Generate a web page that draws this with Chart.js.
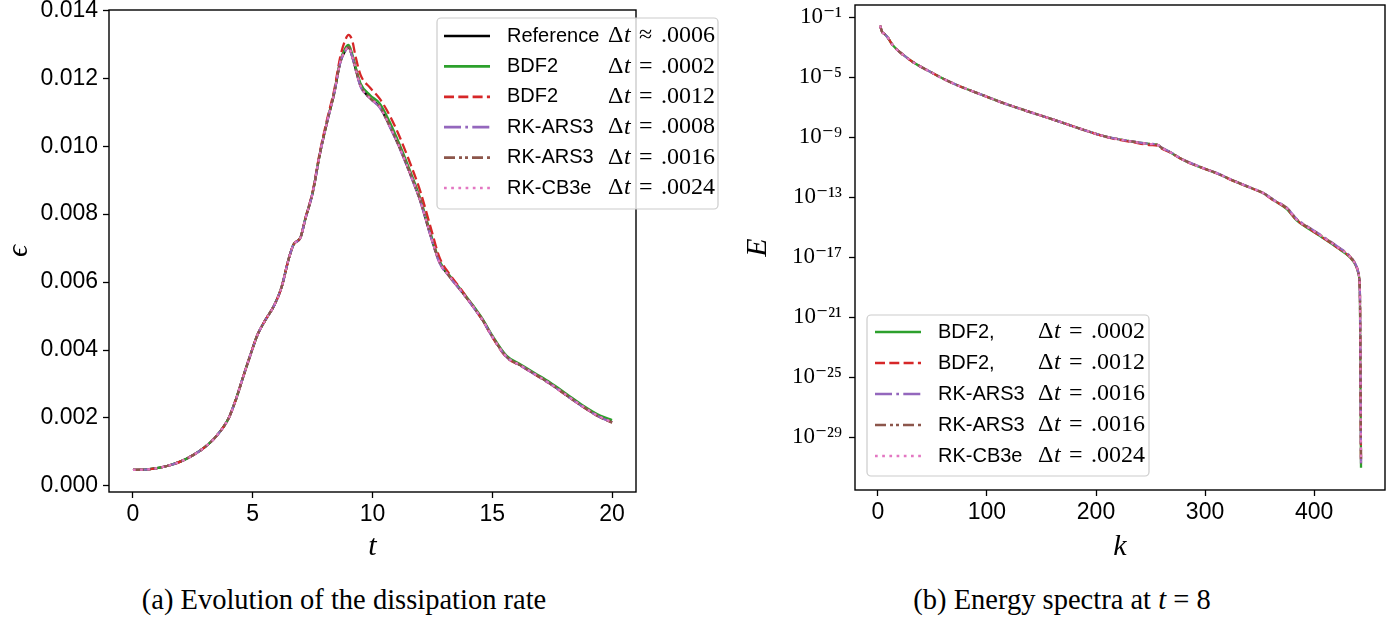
<!DOCTYPE html>
<html>
<head>
<meta charset="utf-8">
<script src="https://cdn.jsdelivr.net/npm/chart.js@4.4.1/dist/chart.umd.min.js"></script>
<style>
  html, body { margin: 0; padding: 0; background: #fff; }
  body { width: 1396px; height: 619px; position: relative; overflow: hidden; }
  #leftChart { position: absolute; left: 0; top: 0; }
  #rightChart { position: absolute; left: 740px; top: 0; }
  .caption {
    position: absolute; top: 584px; white-space: nowrap; color: #000;
    font-family: 'Liberation Serif', serif; font-size: 28.5px;
    transform: translateX(-50%);
  }
</style>
</head>
<body>
<canvas id="leftChart" width="740" height="570"></canvas>
<canvas id="rightChart" width="656" height="570"></canvas>
<div class="caption" style="left:344px">(a) Evolution of the dissipation rate</div>
<div class="caption" style="left:1062px">(b) Energy spectra at <i>t</i> = 8</div>
<script>
/* ===========================
   DATA - (a) dissipation rate
=========================== */
const tValues = [0, 0.5, 1, 1.5, 2, 2.5, 3, 3.5, 4, 4.3, 4.6, 4.9, 5.2, 5.5, 5.9, 6.2, 6.5, 6.7, 7.0, 7.2,
    7.5, 7.8, 8.1, 8.4, 8.65, 8.85, 9.0, 9.15, 9.3, 9.5, 9.9, 10.3, 10.7, 11.1, 11.5, 12.0, 12.4, 12.8,
    13.2, 13.7, 14.2, 14.6, 15.0, 15.6, 16.2, 16.8, 17.4, 18.1, 18.8, 19.5, 20.0];

const epsReference = [0.00047, 0.00048, 0.00052, 0.00060, 0.00072, 0.00090, 0.00114, 0.00148, 0.00200, 0.00255,
    0.00321, 0.00385, 0.00445, 0.00485, 0.00532, 0.00584, 0.00668, 0.00710, 0.00732, 0.00787,
    0.00862, 0.00976, 0.01070, 0.01156, 0.01246, 0.01280, 0.01291, 0.01265, 0.01226, 0.01178,
    0.01141, 0.01116, 0.01062, 0.01001, 0.00932, 0.00838, 0.00743, 0.00658, 0.00618, 0.00574,
    0.00528, 0.00488, 0.00440, 0.00380, 0.00354, 0.00328, 0.00302, 0.00267, 0.00233, 0.00203, 0.00188];

const epsBdf2Fine = [0.00047, 0.00048, 0.00052, 0.00060, 0.00072, 0.00090, 0.00114, 0.00148, 0.00200, 0.00255,
    0.00321, 0.00385, 0.00445, 0.00485, 0.00532, 0.00584, 0.00668, 0.00710, 0.00733, 0.00788,
    0.00863, 0.00978, 0.01072, 0.01158, 0.01250, 0.01287, 0.01298, 0.01272, 0.01232, 0.01185,
    0.01150, 0.01126, 0.01074, 0.01010, 0.00940, 0.00845, 0.00750, 0.00662, 0.00621, 0.00577,
    0.00531, 0.00491, 0.00443, 0.00383, 0.00357, 0.00331, 0.00305, 0.00271, 0.00236, 0.00207, 0.00194];

const epsBdf2Coarse = [0.00047, 0.00048, 0.00052, 0.00060, 0.00072, 0.00090, 0.00114, 0.00148, 0.00200, 0.00255,
    0.00321, 0.00385, 0.00445, 0.00485, 0.00532, 0.00584, 0.00668, 0.00710, 0.00733, 0.00789,
    0.00866, 0.00982, 0.01078, 0.01165, 0.01262, 0.01310, 0.01328, 0.01312, 0.01262, 0.01210,
    0.01172, 0.01140, 0.01093, 0.01033, 0.00963, 0.00866, 0.00768, 0.00672, 0.00625, 0.00578,
    0.00528, 0.00487, 0.00438, 0.00378, 0.00353, 0.00327, 0.00301, 0.00266, 0.00232, 0.00202, 0.00187];

const epsArs3Fine = [0.00047, 0.00048, 0.00052, 0.00060, 0.00072, 0.00090, 0.00114, 0.00148, 0.00200, 0.00255,
    0.00321, 0.00385, 0.00445, 0.00485, 0.00532, 0.00584, 0.00668, 0.00710, 0.00732, 0.00787,
    0.00862, 0.00976, 0.01070, 0.01155, 0.01245, 0.01279, 0.01290, 0.01264, 0.01224, 0.01176,
    0.01140, 0.01114, 0.01060, 0.00999, 0.00930, 0.00836, 0.00741, 0.00656, 0.00617, 0.00573,
    0.00527, 0.00487, 0.00439, 0.00379, 0.00353, 0.00327, 0.00301, 0.00266, 0.00232, 0.00202, 0.00187];

const epsArs3Coarse = [0.00047, 0.00048, 0.00052, 0.00060, 0.00072, 0.00090, 0.00114, 0.00148, 0.00200, 0.00255,
    0.00321, 0.00385, 0.00445, 0.00485, 0.00532, 0.00584, 0.00668, 0.00710, 0.00732, 0.00787,
    0.00862, 0.00976, 0.01070, 0.01156, 0.01246, 0.01281, 0.01292, 0.01266, 0.01227, 0.01179,
    0.01142, 0.01117, 0.01063, 0.01002, 0.00933, 0.00839, 0.00744, 0.00659, 0.00618, 0.00574,
    0.00528, 0.00488, 0.00440, 0.00380, 0.00354, 0.00328, 0.00302, 0.00267, 0.00232, 0.00202, 0.00186];

const epsCb3e = [0.00047, 0.00048, 0.00052, 0.00060, 0.00072, 0.00090, 0.00114, 0.00148, 0.00200, 0.00255,
    0.00321, 0.00385, 0.00445, 0.00485, 0.00532, 0.00584, 0.00668, 0.00710, 0.00732, 0.00787,
    0.00862, 0.00976, 0.01070, 0.01156, 0.01246, 0.01280, 0.01291, 0.01265, 0.01226, 0.01178,
    0.01141, 0.01116, 0.01062, 0.01001, 0.00932, 0.00838, 0.00743, 0.00658, 0.00618, 0.00574,
    0.00528, 0.00488, 0.00440, 0.00380, 0.00354, 0.00328, 0.00302, 0.00267, 0.00233, 0.00203, 0.00188];

const namesA = ['Reference', 'BDF2', 'BDF2', 'RK-ARS3', 'RK-ARS3', 'RK-CB3e'];
const relA = ['≈', '=', '=', '=', '=', '='];
const dtA = ['.0006', '.0002', '.0012', '.0008', '.0016', '.0024'];
const tTicks = [0, 5, 10, 15, 20];
const epsTicks = [0, 0.002, 0.004, 0.006, 0.008, 0.010, 0.012, 0.014];

/* ===========================
   DATA - (b) energy spectra
=========================== */
const kValues = [2, 4, 6, 9, 12, 16, 23, 32, 45, 60, 75, 90, 112, 136, 161, 185, 210, 234, 250, 256,
    260, 268, 280, 295, 311, 326, 341, 354, 363, 375, 384, 396, 408, 421, 433, 438, 441, 442, 443];

const energyBdf2Fine = [2.8e-2, 1.0e-2, 7.9e-3, 4.5e-3, 2.0e-3, 8.9e-4, 3.2e-4, 1.05e-4, 3.0e-5, 7.9e-6,
    2.5e-6, 9.5e-7, 2.3e-7, 5.8e-8, 1.5e-8, 3.8e-9, 1.05e-9, 5.0e-10, 3.5e-10, 3.2e-10,
    2.0e-10, 1.0e-10, 3.0e-11, 1.05e-11, 3.8e-12, 1.23e-12, 4.4e-13, 1.74e-13, 6.3e-14, 1.6e-14,
    2.8e-15, 7.0e-16, 1.9e-16, 4.3e-17, 9.5e-18, 3.0e-18, 6.0e-19, 3.0e-20, 9.0e-32];

const energyBdf2Coarse = [2.8e-2, 1.0e-2, 7.9e-3, 4.5e-3, 2.0e-3, 8.9e-4, 3.2e-4, 1.05e-4, 3.0e-5, 7.9e-6,
    2.5e-6, 9.5e-7, 2.3e-7, 5.8e-8, 1.5e-8, 3.8e-9, 1.0e-9, 4.6e-10, 3.0e-10, 2.8e-10,
    1.8e-10, 9.5e-11, 3.0e-11, 1.05e-11, 3.8e-12, 1.23e-12, 4.4e-13, 1.7e-13, 6.0e-14, 1.7e-14,
    3.0e-15, 7.6e-16, 2.0e-16, 4.6e-17, 1.0e-17, 3.1e-18, 6.2e-19, 3.1e-20, 1.6e-31];

const energyArs3Fine = [2.8e-2, 1.0e-2, 7.9e-3, 4.5e-3, 2.0e-3, 8.9e-4, 3.2e-4, 1.05e-4, 3.0e-5, 7.9e-6,
    2.5e-6, 9.5e-7, 2.3e-7, 5.8e-8, 1.5e-8, 3.8e-9, 1.05e-9, 5.2e-10, 3.6e-10, 3.3e-10,
    2.1e-10, 1.05e-10, 3.2e-11, 1.1e-11, 4.0e-12, 1.3e-12, 4.6e-13, 1.8e-13, 6.6e-14, 2.0e-14,
    3.6e-15, 9.0e-16, 2.4e-16, 5.4e-17, 1.15e-17, 3.4e-18, 6.6e-19, 3.3e-20, 1.8e-31];

const energyArs3Coarse = [2.8e-2, 1.0e-2, 7.9e-3, 4.5e-3, 2.0e-3, 8.9e-4, 3.2e-4, 1.05e-4, 3.0e-5, 7.9e-6,
    2.5e-6, 9.5e-7, 2.3e-7, 5.8e-8, 1.5e-8, 3.8e-9, 1.05e-9, 5.1e-10, 3.5e-10, 3.2e-10,
    2.0e-10, 1.0e-10, 3.1e-11, 1.08e-11, 3.9e-12, 1.27e-12, 4.5e-13, 1.77e-13, 6.4e-14, 1.9e-14,
    3.4e-15, 8.4e-16, 2.3e-16, 5.1e-17, 1.1e-17, 3.3e-18, 6.4e-19, 3.2e-20, 2.0e-31];

const energyCb3e = [2.8e-2, 1.0e-2, 7.9e-3, 4.5e-3, 2.0e-3, 8.9e-4, 3.2e-4, 1.05e-4, 3.0e-5, 7.9e-6,
    2.5e-6, 9.5e-7, 2.3e-7, 5.8e-8, 1.5e-8, 3.8e-9, 1.05e-9, 5.0e-10, 3.5e-10, 3.2e-10,
    2.0e-10, 1.0e-10, 3.0e-11, 1.06e-11, 3.8e-12, 1.25e-12, 4.5e-13, 1.75e-13, 6.3e-14, 1.8e-14,
    3.2e-15, 8.1e-16, 2.2e-16, 4.9e-17, 1.05e-17, 3.2e-18, 6.3e-19, 3.2e-20, 2.2e-31];

const namesB = ['BDF2,', 'BDF2,', 'RK-ARS3', 'RK-ARS3', 'RK-CB3e'];
const relB = ['=', '=', '=', '=', '='];
const dtB = ['.0002', '.0012', '.0016', '.0016', '.0024'];
const kTicks = [0, 100, 200, 300, 400];
const energyTicks = [1e-29, 1e-25, 1e-21, 1e-17, 1e-13, 1e-9, 1e-5, 1e-1];

/* ===========================
   STYLES
=========================== */
const SANS = "'Liberation Sans', 'DejaVu Sans', sans-serif";
const SERIF = "'Liberation Serif', 'DejaVu Serif', serif";

const lineStyles = {
    black:  { color: '#000000', dash: [] },
    green:  { color: '#2ca02c', dash: [] },
    red:    { color: '#d62728', dash: [10, 4.3] },
    purple: { color: '#9467bd', dash: [17, 4.3, 2.7, 4.3] },
    brown:  { color: '#8c564b', dash: [11, 4, 3, 3, 3, 4] },
    pink:   { color: '#e377c2', dash: [2.7, 4.5] }
};

// later series are drawn on top, like matplotlib
function makeSeries(xs, ys, label, style, rel, dt, layer) {
    return {
        label: label,
        rel: rel,
        dt: dt,
        order: 10 - layer,
        data: xs.map((x, i) => ({ x: x, y: ys[i] })),
        borderColor: style.color,
        borderDash: style.dash,
        borderWidth: 2.3,
        pointRadius: 0,
        fill: false,
        cubicInterpolationMode: 'monotone'
    };
}

const SUP = { '-': '⁻', '0': '⁰', '1': '¹', '2': '²', '3': '³', '4': '⁴',
              '5': '⁵', '6': '⁶', '7': '⁷', '8': '⁸', '9': '⁹' };

function powLabel(v) {
    const e = Math.round(Math.log10(v));
    return '10' + String(e).split('').map(c => SUP[c]).join('');
}

/* ===== closed axes box ===== */
const frameBox = {
    id: 'frameBox',
    afterDatasetsDraw(chart) {
        const { ctx, chartArea: a } = chart;
        ctx.save();
        ctx.strokeStyle = '#000';
        ctx.lineWidth = 1.4;
        ctx.strokeRect(a.left, a.top, a.right - a.left, a.bottom - a.top);
        ctx.restore();
    }
};

/* ===== matplotlib-like legend box ===== */
const boxLegend = {
    id: 'boxLegend',
    afterDraw(chart, args, o) {
        const ctx = chart.ctx;
        ctx.save();
        ctx.beginPath();
        ctx.roundRect(o.x, o.y, o.w, o.h, 4);
        ctx.fillStyle = 'rgba(255,255,255,0.8)';
        ctx.fill();
        ctx.strokeStyle = '#cccccc';
        ctx.lineWidth = 1.2;
        ctx.stroke();

        chart.data.datasets.forEach((ds, i) => {
            const y = o.firstRow + i * o.rowGap;

            ctx.beginPath();
            ctx.setLineDash(ds.borderDash);
            ctx.strokeStyle = ds.borderColor;
            ctx.lineWidth = 2.7;
            ctx.moveTo(o.lineX0, y);
            ctx.lineTo(o.lineX1, y);
            ctx.stroke();
            ctx.setLineDash([]);

            ctx.fillStyle = '#000';
            ctx.textBaseline = 'middle';
            ctx.textAlign = 'left';
            ctx.font = '20px ' + SANS;
            ctx.fillText(ds.label, o.textX, y);

            ctx.font = '24px ' + SERIF;
            ctx.fillText('Δ', o.dtX, y);
            ctx.font = 'italic 24px ' + SERIF;
            ctx.fillText('t', o.dtX + 16, y);
            ctx.font = '24px ' + SERIF;
            ctx.fillText(ds.rel, o.dtX + 31, y);
            ctx.fillText(ds.dt, o.dtX + 53, y);
        });
        ctx.restore();
    }
};

function fixedWidth(w) {
    return scale => {
        scale.width = w;
        scale.paddingTop = 0; scale.paddingBottom = 0;
    };
}
function fixedHeight(h) {
    return scale => {
        scale.height = h;
        scale.paddingLeft = 0; scale.paddingRight = 0;
    };
}
function tickGrid() {
    return { drawOnChartArea: false, color: '#000', tickLength: 6, tickWidth: 1.3 };
}

/* ===========================
   (a) DISSIPATION RATE
=========================== */
new Chart(document.getElementById('leftChart'), {
    type: 'line',
    data: {
        datasets: [
            makeSeries(tValues, epsReference, namesA[0], lineStyles.black, relA[0], dtA[0], 0),
            makeSeries(tValues, epsBdf2Fine, namesA[1], lineStyles.green, relA[1], dtA[1], 1),
            makeSeries(tValues, epsBdf2Coarse, namesA[2], lineStyles.red, relA[2], dtA[2], 2),
            makeSeries(tValues, epsArs3Fine, namesA[3], lineStyles.purple, relA[3], dtA[3], 3),
            makeSeries(tValues, epsArs3Coarse, namesA[4], lineStyles.brown, relA[4], dtA[4], 4),
            makeSeries(tValues, epsCb3e, namesA[5], lineStyles.pink, relA[5], dtA[5], 5)
        ]
    },
    options: {
        responsive: false,
        animation: false,
        layout: { padding: { left: 0, top: 10, right: 104, bottom: 0 } },
        plugins: {
            legend: { display: false },
            tooltip: { enabled: false },
            boxLegend: { x: 437, y: 18, w: 281, h: 191, firstRow: 36, rowGap: 30.4,
                         lineX0: 444, lineX1: 490, textX: 507, dtX: 608 }
        },
        scales: {
            x: {
                type: 'linear', min: -1, max: 21,
                afterBuildTicks: s => { s.ticks = tTicks.map(v => ({ value: v })); },
                afterFit: fixedHeight(78),
                ticks: { color: '#000', font: { family: SANS, size: 23 }, padding: 3,
                         maxRotation: 0, autoSkip: false },
                grid: tickGrid(),
                border: { display: false },
                title: { display: true, text: 't', color: '#000',
                         font: { family: SERIF, style: 'italic', size: 30 },
                         padding: { top: 0, bottom: 5 } }
            },
            y: {
                type: 'linear', min: -0.00018, max: 0.01401,
                afterBuildTicks: s => { s.ticks = epsTicks.map(v => ({ value: v })); },
                afterFit: fixedWidth(109),
                ticks: { color: '#000', font: { family: SANS, size: 23 }, padding: 5,
                         autoSkip: false, callback: v => v.toFixed(3) },
                grid: tickGrid(),
                border: { display: false },
                title: { display: true, text: 'ϵ', color: '#000',
                         font: { family: SERIF, style: 'italic', size: 30 },
                         padding: { top: 1, bottom: 0 } }
            }
        }
    },
    plugins: [frameBox, boxLegend]
});

/* ===========================
   (b) ENERGY SPECTRA
=========================== */
new Chart(document.getElementById('rightChart'), {
    type: 'line',
    data: {
        datasets: [
            makeSeries(kValues, energyBdf2Fine, namesB[0], lineStyles.green, relB[0], dtB[0], 0),
            makeSeries(kValues, energyBdf2Coarse, namesB[1], lineStyles.red, relB[1], dtB[1], 1),
            makeSeries(kValues, energyArs3Fine, namesB[2], lineStyles.purple, relB[2], dtB[2], 2),
            makeSeries(kValues, energyArs3Coarse, namesB[3], lineStyles.brown, relB[3], dtB[3], 3),
            makeSeries(kValues, energyCb3e, namesB[4], lineStyles.pink, relB[4], dtB[4], 4)
        ]
    },
    options: {
        responsive: false,
        animation: false,
        layout: { padding: { left: 0, top: 5, right: 11, bottom: 0 } },
        plugins: {
            legend: { display: false },
            tooltip: { enabled: false },
            boxLegend: { x: 127, y: 315, w: 282, h: 161, firstRow: 332, rowGap: 31,
                         lineX0: 135, lineX1: 181, textX: 198, dtX: 298 }
        },
        scales: {
            x: {
                type: 'linear', min: -21, max: 465,
                afterBuildTicks: s => { s.ticks = kTicks.map(v => ({ value: v })); },
                afterFit: fixedHeight(80),
                ticks: { color: '#000', font: { family: SANS, size: 23 }, padding: 3,
                         maxRotation: 0, autoSkip: false },
                grid: tickGrid(),
                border: { display: false },
                title: { display: true, text: 'k', color: '#000',
                         font: { family: SERIF, style: 'italic', size: 30 },
                         padding: { top: 0, bottom: 5 } }
            },
            y: {
                type: 'logarithmic', min: 2.95e-33, max: 0.66,
                afterBuildTicks: s => { s.ticks = energyTicks.map(v => ({ value: v })); },
                afterFit: fixedWidth(115),
                ticks: { color: '#000', font: { family: SERIF, size: 23 }, padding: 7,
                         autoSkip: false, callback: v => powLabel(v) },
                grid: tickGrid(),
                border: { display: false },
                title: { display: true, text: 'E', color: '#000',
                         font: { family: SERIF, style: 'italic', size: 30 },
                         padding: { top: 0, bottom: 0 } }
            }
        }
    },
    plugins: [frameBox, boxLegend]
});
</script>
</body>
</html>
